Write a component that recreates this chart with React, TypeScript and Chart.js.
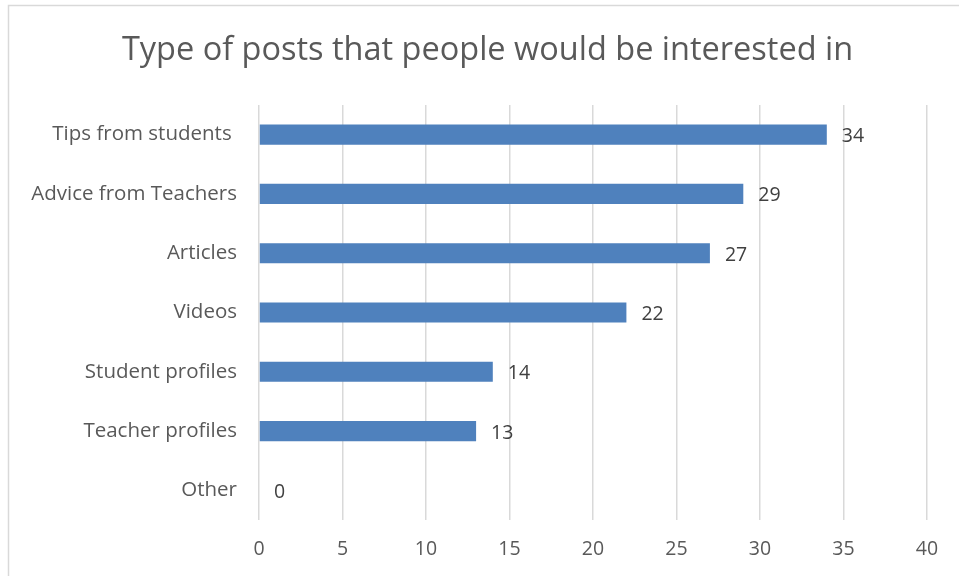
import React, { useEffect, useRef } from "react";
import { Chart, registerables } from "chart.js";

Chart.register(...registerables);

const categories = [
  "Tips from students ",
  "Advice from Teachers",
  "Articles",
  "Videos",
  "Student profiles",
  "Teacher profiles",
  "Other",
];
const values = [34, 29, 27, 22, 14, 13, 0];
const titleText = "Type of posts that people would be interested in";
const xMin = 0;
const xMax = 40;
const xStep = 5;

const FONT = "'Open Sans', 'DejaVu Sans', sans-serif";

const borderPlugin = {
  id: "frame",
  beforeDraw(chart: any) {
    const ctx = chart.ctx;
    ctx.save();
    ctx.fillStyle = "#ffffff";
    ctx.fillRect(0, 0, chart.width, chart.height);
    ctx.strokeStyle = "#d9d9d9";
    ctx.lineWidth = 1.5;
    ctx.strokeRect(8.5, 5.5, chart.width + 20, chart.height + 20);
    ctx.fillStyle = "#595959";
    ctx.font = `32.5px ${FONT}`;
    ctx.textAlign = "center";
    ctx.textBaseline = "middle";
    ctx.fillText(titleText, 487.5, 50.5);
    ctx.restore();
  },
};

const labelPlugin = {
  id: "valueLabels",
  afterDatasetsDraw(chart: any) {
    const ctx = chart.ctx;
    const meta = chart.getDatasetMeta(0);
    ctx.save();
    ctx.font = `19.5px ${FONT}`;
    ctx.fillStyle = "#404040";
    ctx.textAlign = "left";
    ctx.textBaseline = "middle";
    meta.data.forEach((bar: any, i: number) => {
      ctx.fillText(String(values[i]), bar.x + 15, bar.y + 2);
    });
    ctx.restore();
  },
};

export default function App() {
  const ref = useRef<HTMLCanvasElement | null>(null);
  useEffect(() => {
    if (!ref.current) return;
    const chart = new Chart(ref.current, {
      type: "bar",
      data: {
        labels: categories,
        datasets: [
          {
            data: values,
            backgroundColor: "#4F81BD",
            borderWidth: 0,
            categoryPercentage: 1,
            barPercentage: 0.34,
          },
        ],
      },
      options: {
        indexAxis: "y",
        responsive: false,
        animation: false,
        layout: { padding: { left: 0, right: 32, top: 105, bottom: 0 } },
        plugins: {
          legend: { display: false },
          tooltip: { enabled: false },
          title: { display: false },
        },
        scales: {
          x: {
            min: xMin,
            max: xMax,
            ticks: {
              stepSize: xStep,
              color: "#595959",
              font: { family: FONT, size: 19.5 },
              padding: 18,
            },
            grid: { color: "#d9d9d9", lineWidth: 1.5, drawTicks: false },
            border: { display: false },
            afterFit(scale: any) {
              scale.height = 56;
            },
          },
          y: {
            ticks: {
              color: "#595959",
              font: { family: FONT, size: 20.5 },
              padding: 22,
            },
            grid: { display: false, drawTicks: false },
            border: { display: false },
            afterFit(scale: any) {
              scale.width = 259;
            },
          },
        },
      },
      plugins: [borderPlugin, labelPlugin],
    });
    return () => chart.destroy();
  }, []);
  return (
    <div style={{ position: "absolute", left: 0, top: 0, width: 959, height: 576 }}>
      <canvas ref={ref} width={959} height={576} />
    </div>
  );
}
